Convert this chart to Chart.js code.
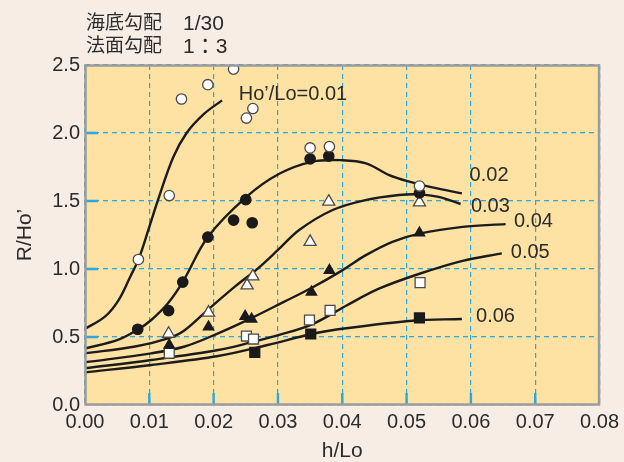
<!DOCTYPE html>
<html>
<head>
<meta charset="utf-8">
<script src="https://cdn.jsdelivr.net/npm/chart.js@4.4.1/dist/chart.umd.min.js"></script>
<style>
  html, body { margin: 0; padding: 0; background: #f7ede5; }
  #wrap { width: 624px; height: 462px; }
</style>
</head>
<body>
<div id="wrap"><canvas id="chart" width="624" height="462"></canvas></div>
<script>
// fitted curves, one per Ho'/Lo as [h/Lo, R/Ho']
const curve01 = [[0, 0.56], [0.0031, 0.65], [0.0052, 0.77], [0.0070, 0.94], [0.0084, 1.08], [0.0100, 1.31],
  [0.0113, 1.50], [0.0137, 1.82], [0.0158, 2.00], [0.0185, 2.14], [0.0213, 2.24]];
const curve02 = [[0, 0.415], [0.0052, 0.48], [0.0083, 0.557], [0.0103, 0.625], [0.0129, 0.748], [0.0152, 0.905],
  [0.0191, 1.235], [0.0251, 1.53], [0.0302, 1.70], [0.0354, 1.79], [0.0400, 1.80], [0.0437, 1.777],
  [0.0473, 1.69], [0.0504, 1.642], [0.0540, 1.60], [0.0586, 1.556]];
const curve03 = [[0, 0.38], [0.0078, 0.43], [0.0129, 0.49], [0.0155, 0.55], [0.0191, 0.70], [0.0233, 0.87],
  [0.0269, 1.005], [0.0300, 1.14], [0.0333, 1.287], [0.0385, 1.434], [0.0436, 1.507], [0.0488, 1.544],
  [0.0520, 1.549], [0.0550, 1.53], [0.0584, 1.478]];
const curve04 = [[0, 0.314], [0.0103, 0.38], [0.0155, 0.43], [0.0207, 0.527], [0.0258, 0.637], [0.0310, 0.76],
  [0.0352, 0.86], [0.0400, 0.99], [0.0436, 1.10], [0.0478, 1.20], [0.0520, 1.26],
  [0.0587, 1.31], [0.0654, 1.33]];
const curve05 = [[0, 0.27], [0.0103, 0.331], [0.0207, 0.404], [0.0258, 0.46], [0.0302, 0.515], [0.0354, 0.595],
  [0.0406, 0.73], [0.0457, 0.855], [0.0520, 0.965], [0.0587, 1.06], [0.0648, 1.115]];
const curve06 = [[0, 0.24], [0.0103, 0.294], [0.0207, 0.36], [0.0284, 0.441], [0.0351, 0.52], [0.0406, 0.564],
  [0.0509, 0.62], [0.0586, 0.632]];

// experiment points
const pts01 = [[0.0083, 1.07], [0.0131, 1.54], [0.0150, 2.25], [0.0191, 2.355], [0.0231, 2.47], [0.0251, 2.11],
  [0.0261, 2.18], [0.0350, 1.89], [0.0380, 1.90], [0.0520, 1.61]];
const pts02 = [[0.0082, 0.557], [0.0130, 0.694], [0.0152, 0.904], [0.0191, 1.235], [0.0231, 1.36], [0.0250, 1.51],
  [0.0260, 1.34], [0.0350, 1.81], [0.0379, 1.83], [0.0520, 1.56]];
const pts03 = [[0.0130, 0.524], [0.0192, 0.679], [0.0252, 0.88], [0.0261, 0.946], [0.0350, 1.20], [0.0379, 1.495],
  [0.0520, 1.49]];
const pts04 = [[0.0131, 0.44], [0.0192, 0.574], [0.0249, 0.652], [0.0259, 0.632], [0.0352, 0.83], [0.0380, 0.99],
  [0.0520, 1.265]];
const pts05 = [[0.0131, 0.38], [0.0251, 0.507], [0.0262, 0.485], [0.0349, 0.625], [0.0381, 0.696], [0.0521, 0.90]];
const pts06 = [[0.0264, 0.387], [0.0351, 0.522], [0.0520, 0.64]];

// curve labels and where they sit (left edge, vertical middle) in data units
const curveLabels = ["Ho’/Lo=0.01", '0.02', '0.03', '0.04', '0.05', '0.06'];
const labelX = [0.0239, 0.0598, 0.0600, 0.0667, 0.0662, 0.0608];
const labelY = [2.28, 1.69, 1.463, 1.346, 1.125, 0.654];

const headerNames = ['海底勾配', '法面勾配'];
const headerValues = ['1/30', '1：3'];

const FONT = '"Liberation Sans", Arial, "Noto Sans CJK JP", sans-serif';
const TEXT = '#2b2b2b';
const GRID = '#2aa8e0';

const xy = (arr) => arr.map(([x, y]) => ({ x, y }));

const lineSet = (arr) => ({
  type: 'line',
  data: xy(arr),
  borderColor: '#1c1c1c',
  borderWidth: 2.4,
  pointRadius: 0,
  fill: false,
  tension: 0.35,
  order: 2,
});

const markSet = (arr, style, filled, radius) => ({
  type: 'scatter',
  data: xy(arr),
  pointStyle: style,
  pointRadius: radius,
  pointBackgroundColor: filled ? '#1a1a1a' : '#ffffff',
  pointBorderColor: filled ? '#1a1a1a' : '#4a4a4a',
  pointBorderWidth: 1.3,
  order: 1,
});

const paper = {
  id: 'paper',
  beforeDraw(chart) {
    const { ctx, chartArea: a } = chart;
    ctx.save();
    ctx.fillStyle = '#f7ede5';
    ctx.fillRect(0, 0, chart.width, chart.height);
    ctx.fillStyle = '#fde2a4';
    ctx.fillRect(a.left, a.top, a.right - a.left, a.bottom - a.top);
    ctx.restore();
  },
  beforeDatasetsDraw(chart) {
    // short solid ticks inside the frame
    const { ctx, chartArea: a, scales: { x, y } } = chart;
    ctx.save();
    ctx.strokeStyle = GRID;
    ctx.lineWidth = 2.4;
    ctx.beginPath();
    x.ticks.forEach((t) => {
      if (t.value <= 0 || t.value >= 0.08) return;
      const px = x.getPixelForValue(t.value);
      ctx.moveTo(px, a.bottom);
      ctx.lineTo(px, a.bottom - 12);
    });
    y.ticks.forEach((t) => {
      if (t.value <= 0 || t.value >= 2.5) return;
      const py = y.getPixelForValue(t.value);
      ctx.moveTo(a.left, py);
      ctx.lineTo(a.left + 13, py);
    });
    ctx.stroke();
    ctx.restore();
  },
  afterDatasetsDraw(chart) {
    const { ctx, chartArea: a } = chart;
    ctx.save();
    ctx.strokeStyle = '#9c9c9c';
    ctx.lineWidth = 2.5;
    ctx.strokeRect(a.left + 0.5, a.top + 0.5, a.right - a.left - 1, a.bottom - a.top - 1);
    ctx.restore();
  },
  afterDraw(chart) {
    const { ctx, scales: { x, y } } = chart;
    ctx.save();
    ctx.fillStyle = TEXT;
    ctx.textBaseline = 'middle';
    ctx.textAlign = 'left';
    ctx.font = '20px ' + FONT;
    curveLabels.forEach((txt, i) => {
      ctx.fillText(txt, x.getPixelForValue(labelX[i]), y.getPixelForValue(labelY[i]));
    });
    headerNames.forEach((name, i) => {
      ctx.font = '19px ' + FONT;
      ctx.fillText(name, 86, 24 + i * 23);
      ctx.font = '21px ' + FONT;
      ctx.fillText(headerValues[i], 183, 24 + i * 23);
    });
    ctx.restore();
  },
};

new Chart(document.getElementById('chart'), {
  data: {
    datasets: [
      lineSet(curve01), lineSet(curve02), lineSet(curve03),
      lineSet(curve04), lineSet(curve05), lineSet(curve06),
      markSet(pts01, 'circle', false, 5.2),
      markSet(pts02, 'circle', true, 5.2),
      markSet(pts03, 'triangle', false, 7),
      markSet(pts04, 'triangle', true, 6),
      markSet(pts05, 'rect', false, 7),
      markSet(pts06, 'rect', true, 7),
    ],
  },
  options: {
    responsive: false,
    animation: false,
    events: [],
    layout: { padding: { left: 0, top: 65, right: 23, bottom: 0 } },
    plugins: { legend: { display: false }, tooltip: { enabled: false } },
    scales: {
      x: {
        type: 'linear',
        min: 0,
        max: 0.08,
        afterFit: (s) => { s.height = 57; },
        ticks: {
          stepSize: 0.01,
          color: TEXT,
          padding: 5,
          font: { family: FONT, size: 20 },
          callback: (v) => v.toFixed(2),
        },
        grid: { color: GRID, lineWidth: 1.2, drawTicks: false },
        border: { display: false, dash: [5, 4] },
        title: {
          display: true,
          text: 'h/Lo',
          color: TEXT,
          font: { family: FONT, size: 21, lineHeight: 1 },
          padding: { top: 0, bottom: 0 },
        },
      },
      y: {
        type: 'linear',
        min: 0,
        max: 2.5,
        afterFit: (s) => { s.width = 85; },
        ticks: {
          stepSize: 0.5,
          color: TEXT,
          padding: 5,
          font: { family: FONT, size: 20 },
          callback: (v) => v.toFixed(1),
        },
        grid: { color: GRID, lineWidth: 1.2, drawTicks: false },
        border: { display: false, dash: [5, 4] },
        title: {
          display: true,
          text: 'R/Ho’',
          color: TEXT,
          font: { family: FONT, size: 21, lineHeight: 1 },
          padding: { top: 15, bottom: 0 },
        },
      },
    },
  },
  plugins: [paper],
});
</script>
</body>
</html>
